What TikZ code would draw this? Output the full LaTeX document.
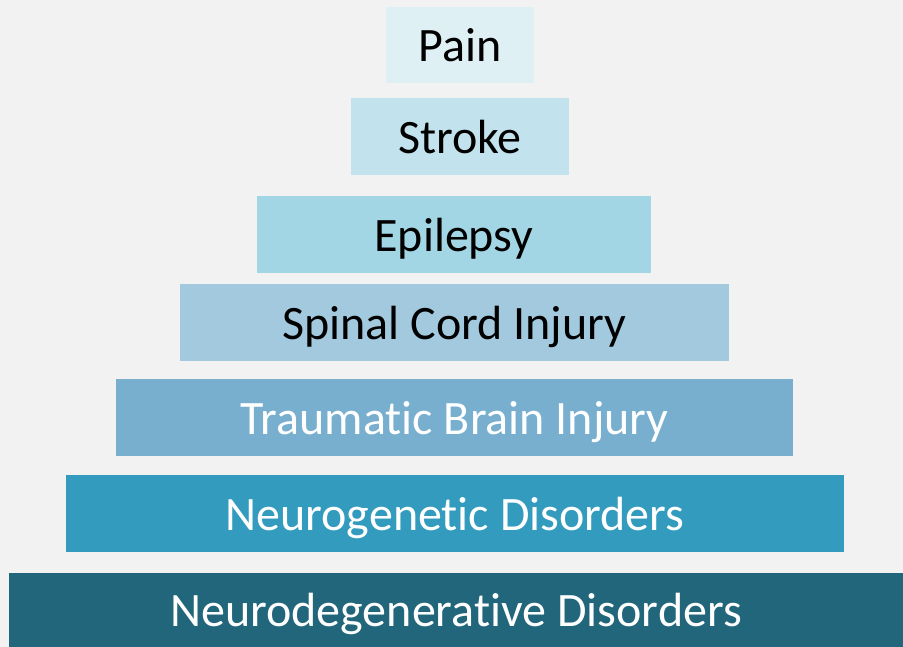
\documentclass[tikz,border=0pt]{standalone}
\usepackage{fontspec}
\setmainfont[Ligatures=NoCommon]{Carlito}
\definecolor{bg}{HTML}{F2F2F2}
\definecolor{c1}{HTML}{DFF0F5}
\definecolor{c2}{HTML}{C2E3ED}
\definecolor{c3}{HTML}{A3D6E4}
\definecolor{c4}{HTML}{A2C9DE}
\definecolor{c5}{HTML}{78AFCF}
\definecolor{c6}{HTML}{339CBE}
\definecolor{c7}{HTML}{22667C}
\begin{document}
\begin{tikzpicture}[x=1pt,y=-1pt,
  tier/.style={draw=none,inner sep=0pt,outer sep=0pt,anchor=center,
    font=\fontsize{48}{52}\selectfont,text height=33.4pt,text depth=0pt},
  darktext/.style={text=black},
  lighttext/.style={text=white}]
\fill[bg] (0,0) rectangle (903,647);
\useasboundingbox (0,0) rectangle (903,647);
\node[tier,darktext,fill=c1,minimum width=148pt,minimum height=76pt] (pain) at (460,45) {Pain};
\node[tier,darktext,fill=c2,minimum width=218pt,minimum height=77pt] (stroke) at (460,136.5) {Stroke};
\node[tier,darktext,fill=c3,minimum width=394pt,minimum height=77pt] (epi) at (454,234.5) {Epilepsy};
\node[tier,darktext,fill=c4,minimum width=549pt,minimum height=77pt] (sci) at (454.5,322.5) {Spinal Cord Injury};
\node[tier,lighttext,fill=c5,minimum width=677pt,minimum height=77pt] (tbi) at (454.5,417.5) {Traumatic Brain Injury};
\node[tier,lighttext,fill=c6,minimum width=778pt,minimum height=77pt] (ngen) at (455,513.5) {Neurogenetic Disorders};
\node[tier,lighttext,fill=c7,minimum width=894pt,minimum height=74pt] (ndeg) at (456,610) {Neurodegenerative Disorders};
\end{tikzpicture}
\end{document}
